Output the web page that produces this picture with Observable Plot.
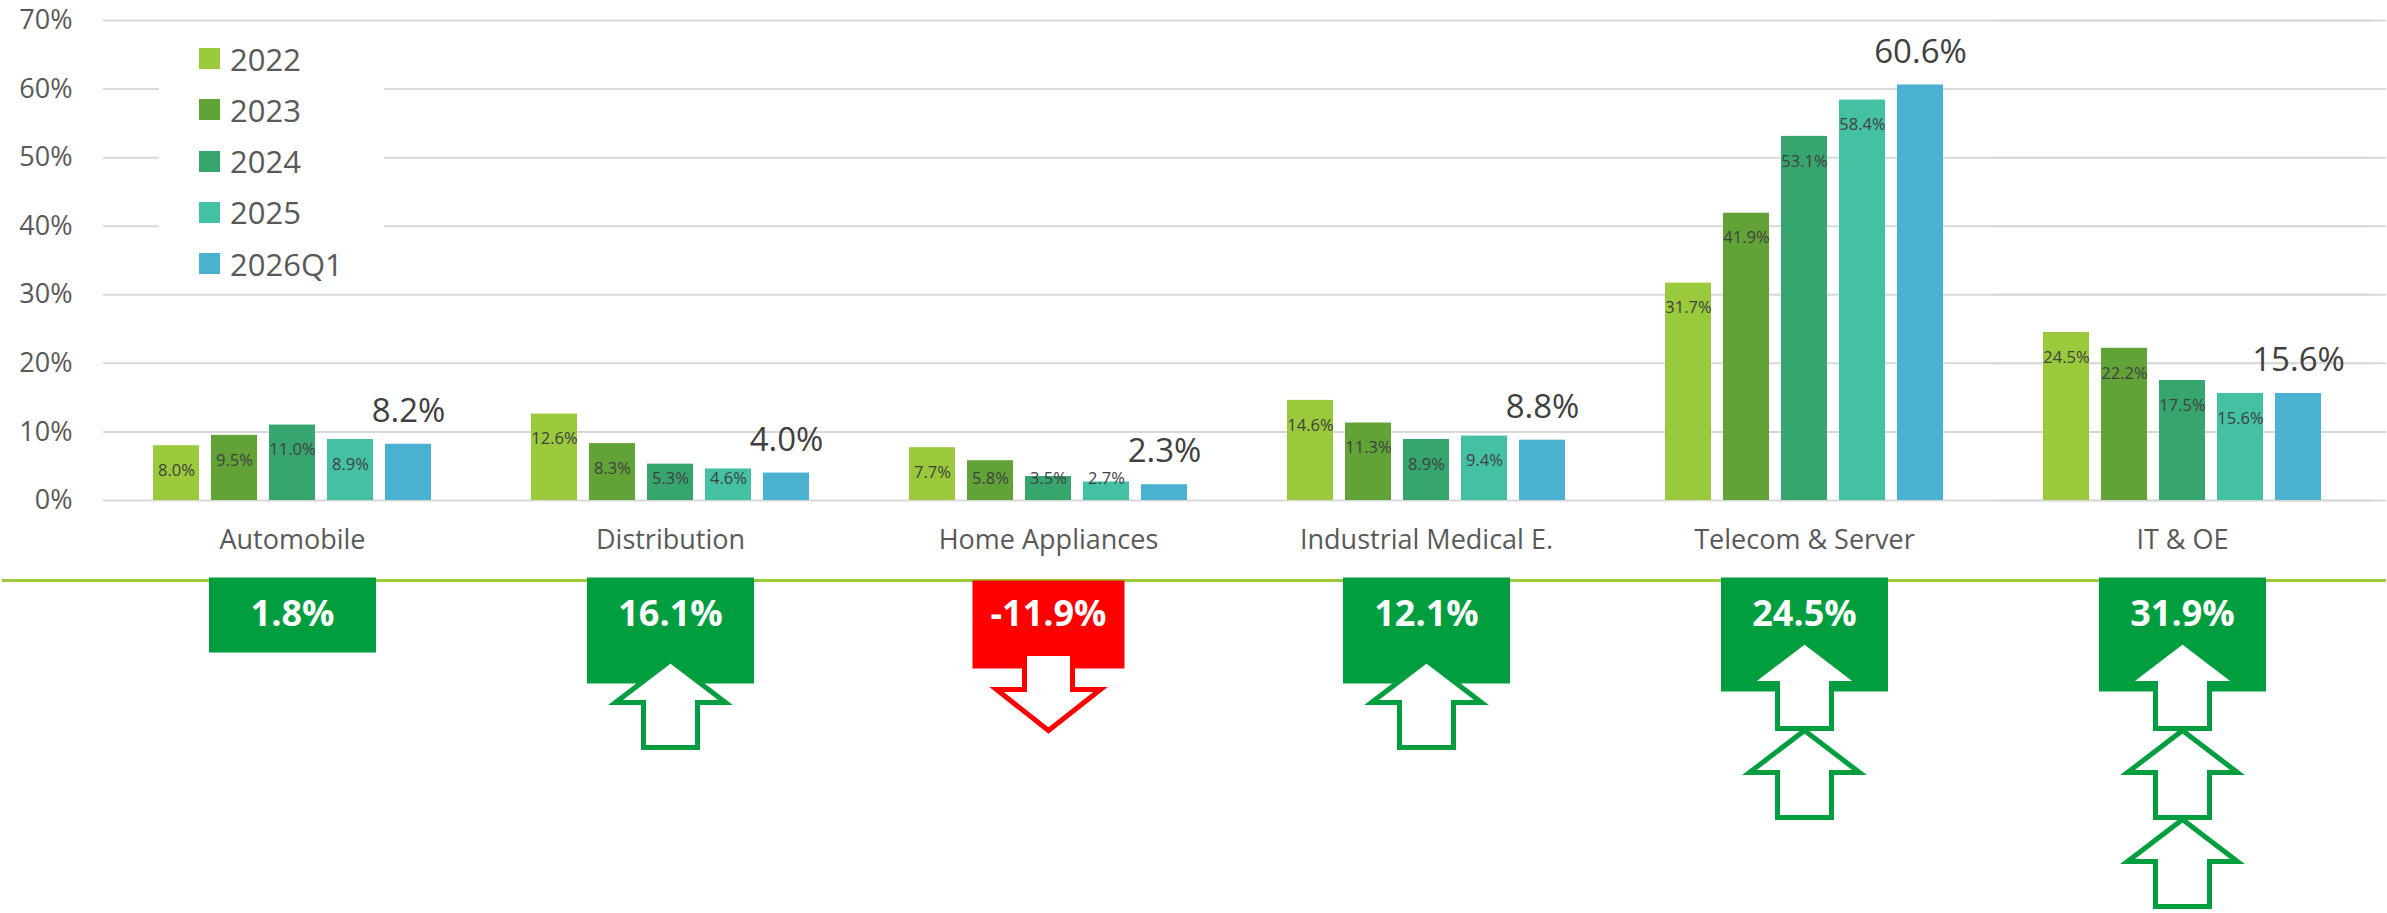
<!DOCTYPE html>
<html>
<head>
<meta charset="utf-8">
<script src="https://cdn.jsdelivr.net/npm/d3@7"></script>
<script src="https://cdn.jsdelivr.net/npm/@observablehq/plot@0.6"></script>
<style>
  html, body { margin: 0; padding: 0; background: #fff; }
  #wrap { position: relative; width: 2387px; height: 913px; font-family: "Open Sans", sans-serif; }
  #legend { position: absolute; left: 159px; top: 32px; width: 225px; height: 252px; background: #fff; }
  .lg { position: absolute; left: 40px; height: 40px; display: flex; align-items: center; font-size: 31px; color: #595959; white-space: nowrap; }
  .lg .sw { width: 21px; height: 21px; margin-right: 10px; display: inline-block; }
</style>
</head>
<body>
<div id="wrap"><div id="chart"></div><div id="legend"></div></div>
<script>
// ---- data ----
const categories = ["Automobile", "Distribution", "Home Appliances", "Industrial Medical E.", "Telecom & Server", "IT & OE"];
const years = ["2022", "2023", "2024", "2025", "2026Q1"];
const values2022 = [8.0, 12.6, 7.7, 14.6, 31.7, 24.5];
const values2023 = [9.5, 8.3, 5.8, 11.3, 41.9, 22.2];
const values2024 = [11.0, 5.3, 3.5, 8.9, 53.1, 17.5];
const values2025 = [8.9, 4.6, 2.7, 9.4, 58.4, 15.6];
const values2026Q1 = [8.2, 4.0, 2.3, 8.8, 60.6, 15.6];
const growth = [1.8, 16.1, -11.9, 12.1, 24.5, 31.9];
const arrowCounts = [0, 1, 1, 1, 2, 3];
const yTicks = [0, 10, 20, 30, 40, 50, 60, 70];
const colors = ["#9ACA3C", "#62A337", "#37A66E", "#44C1A3", "#4BB1D0"];

// ---- derived tables ----
const series = [values2022, values2023, values2024, values2025, values2026Q1];
const rows = categories.flatMap((c, i) => years.map((yr, j) => ({cat: c, year: yr, value: series[j][i]})));
const notes = categories.map((c, i) => ({cat: c, g: growth[i], n: arrowCounts[i]}));

const green = "#009E3F", red = "#FF0000";

function boxSymbol(x, y, w, h) {
  return {draw(ctx) { ctx.moveTo(x, y); ctx.lineTo(x + w, y); ctx.lineTo(x + w, y + h); ctx.lineTo(x, y + h); ctx.closePath(); }};
}
function upArrows(n, t0) {
  return {draw(ctx) {
    for (let k = 0; k < n; k++) {
      const t = t0 + k * 89;
      ctx.moveTo(0, t); ctx.lineTo(55, t + 42); ctx.lineTo(27, t + 42); ctx.lineTo(27, t + 87);
      ctx.lineTo(-27, t + 87); ctx.lineTo(-27, t + 42); ctx.lineTo(-55, t + 42); ctx.closePath();
    }
  }};
}
function downArrow(t0) {
  return {draw(ctx) {
    ctx.moveTo(-24, t0); ctx.lineTo(24, t0); ctx.lineTo(24, t0 + 36); ctx.lineTo(52, t0 + 36);
    ctx.lineTo(0, t0 + 77); ctx.lineTo(-52, t0 + 36); ctx.lineTo(-24, t0 + 36); ctx.closePath();
  }};
}

const noteMarks = notes.flatMap(d => {
  const neg = d.g < 0;
  const box = neg ? boxSymbol(-76, 80, 152, 88)
    : d.n === 0 ? boxSymbol(-83.5, 77, 167, 75)
    : d.n === 1 ? boxSymbol(-83.5, 77, 167, 106)
    : boxSymbol(-83.5, 77, 167, 114);
  const ms = [Plot.dot([d], {fx: "cat", frameAnchor: "bottom", symbol: box, fill: neg ? red : green, stroke: "none"})];
  if (neg) {
    ms.push(Plot.dot([d], {fx: "cat", frameAnchor: "bottom", symbol: downArrow(153), fill: "white", stroke: red, strokeWidth: 5}));
  } else if (d.n > 0) {
    ms.push(Plot.dot([d], {fx: "cat", frameAnchor: "bottom", symbol: upArrows(d.n, d.n > 1 ? 141 : 160), fill: "white", stroke: green, strokeWidth: 5}));
  }
  return ms;
});

const chart = Plot.plot({
  width: 2387,
  height: 913,
  marginLeft: 101,
  marginRight: 15,
  marginTop: 20,
  marginBottom: 413,
  style: {fontFamily: '"Open Sans", sans-serif', background: "#fff", overflow: "visible"},
  fx: {domain: categories, padding: 0, axis: null, label: null},
  x: {domain: years, paddingInner: 0.21, paddingOuter: 0.857, axis: null, label: null},
  y: {domain: [0, 70], axis: null, label: null},
  color: {domain: years, range: colors},
  marks: [
    Plot.ruleY(yTicks, {stroke: "#D9D9D9", strokeWidth: 2}),
    Plot.ruleY(yTicks, {fx: () => categories[categories.length - 1], stroke: "#D9D9D9", strokeWidth: 2, insetRight: -15}),
    Plot.text(yTicks, {fx: () => categories[0], y: d => d, text: d => d + "%", frameAnchor: "left", dx: -31, textAnchor: "end", fontSize: 27, fill: "#595959"}),
    Plot.barY(rows, {fx: "cat", x: "year", y: "value", fill: "year"}),
    Plot.text(rows.filter(d => d.year !== years[years.length - 1]), {fx: "cat", x: "year", y: d => Math.max(d.value, 6.85), dy: 25, text: d => d.value.toFixed(1) + "%", fontSize: 16.5, fill: "#404040", lineAnchor: "middle"}),
    Plot.text(rows.filter(d => d.year === years[years.length - 1]), {fx: "cat", x: "year", y: "value", dy: -33, text: d => d.value.toFixed(1) + "%", fontSize: 33, fill: "#404040", lineAnchor: "middle"}),
    Plot.text(categories, {fx: d => d, text: d => d, frameAnchor: "bottom", dy: 40, lineAnchor: "middle", fontSize: 27, fill: "#595959"}),
    Plot.ruleY([0], {dy: 80, stroke: "#9BCB3C", strokeWidth: 3}),
    Plot.ruleY([0], {fx: () => categories[0], dy: 80, stroke: "#9BCB3C", strokeWidth: 3, insetLeft: -101}),
    Plot.ruleY([0], {fx: () => categories[categories.length - 1], dy: 80, stroke: "#9BCB3C", strokeWidth: 3, insetRight: -15}),
    ...noteMarks,
    Plot.text(notes, {fx: "cat", frameAnchor: "bottom", dy: 114, lineAnchor: "middle", text: d => d.g.toFixed(1) + "%", fill: "white", fontWeight: "bold", fontSize: 36})
  ]
});
document.getElementById("chart").appendChild(chart);

// ---- legend ----
const legend = document.getElementById("legend");
years.forEach((yr, i) => {
  const row = document.createElement("div");
  row.className = "lg";
  row.style.top = (26.5 + 51.25 * i - 20) + "px";
  const sw = document.createElement("span");
  sw.className = "sw";
  sw.style.background = colors[i];
  row.appendChild(sw);
  row.appendChild(document.createTextNode(yr));
  legend.appendChild(row);
});
</script>
</body>
</html>
